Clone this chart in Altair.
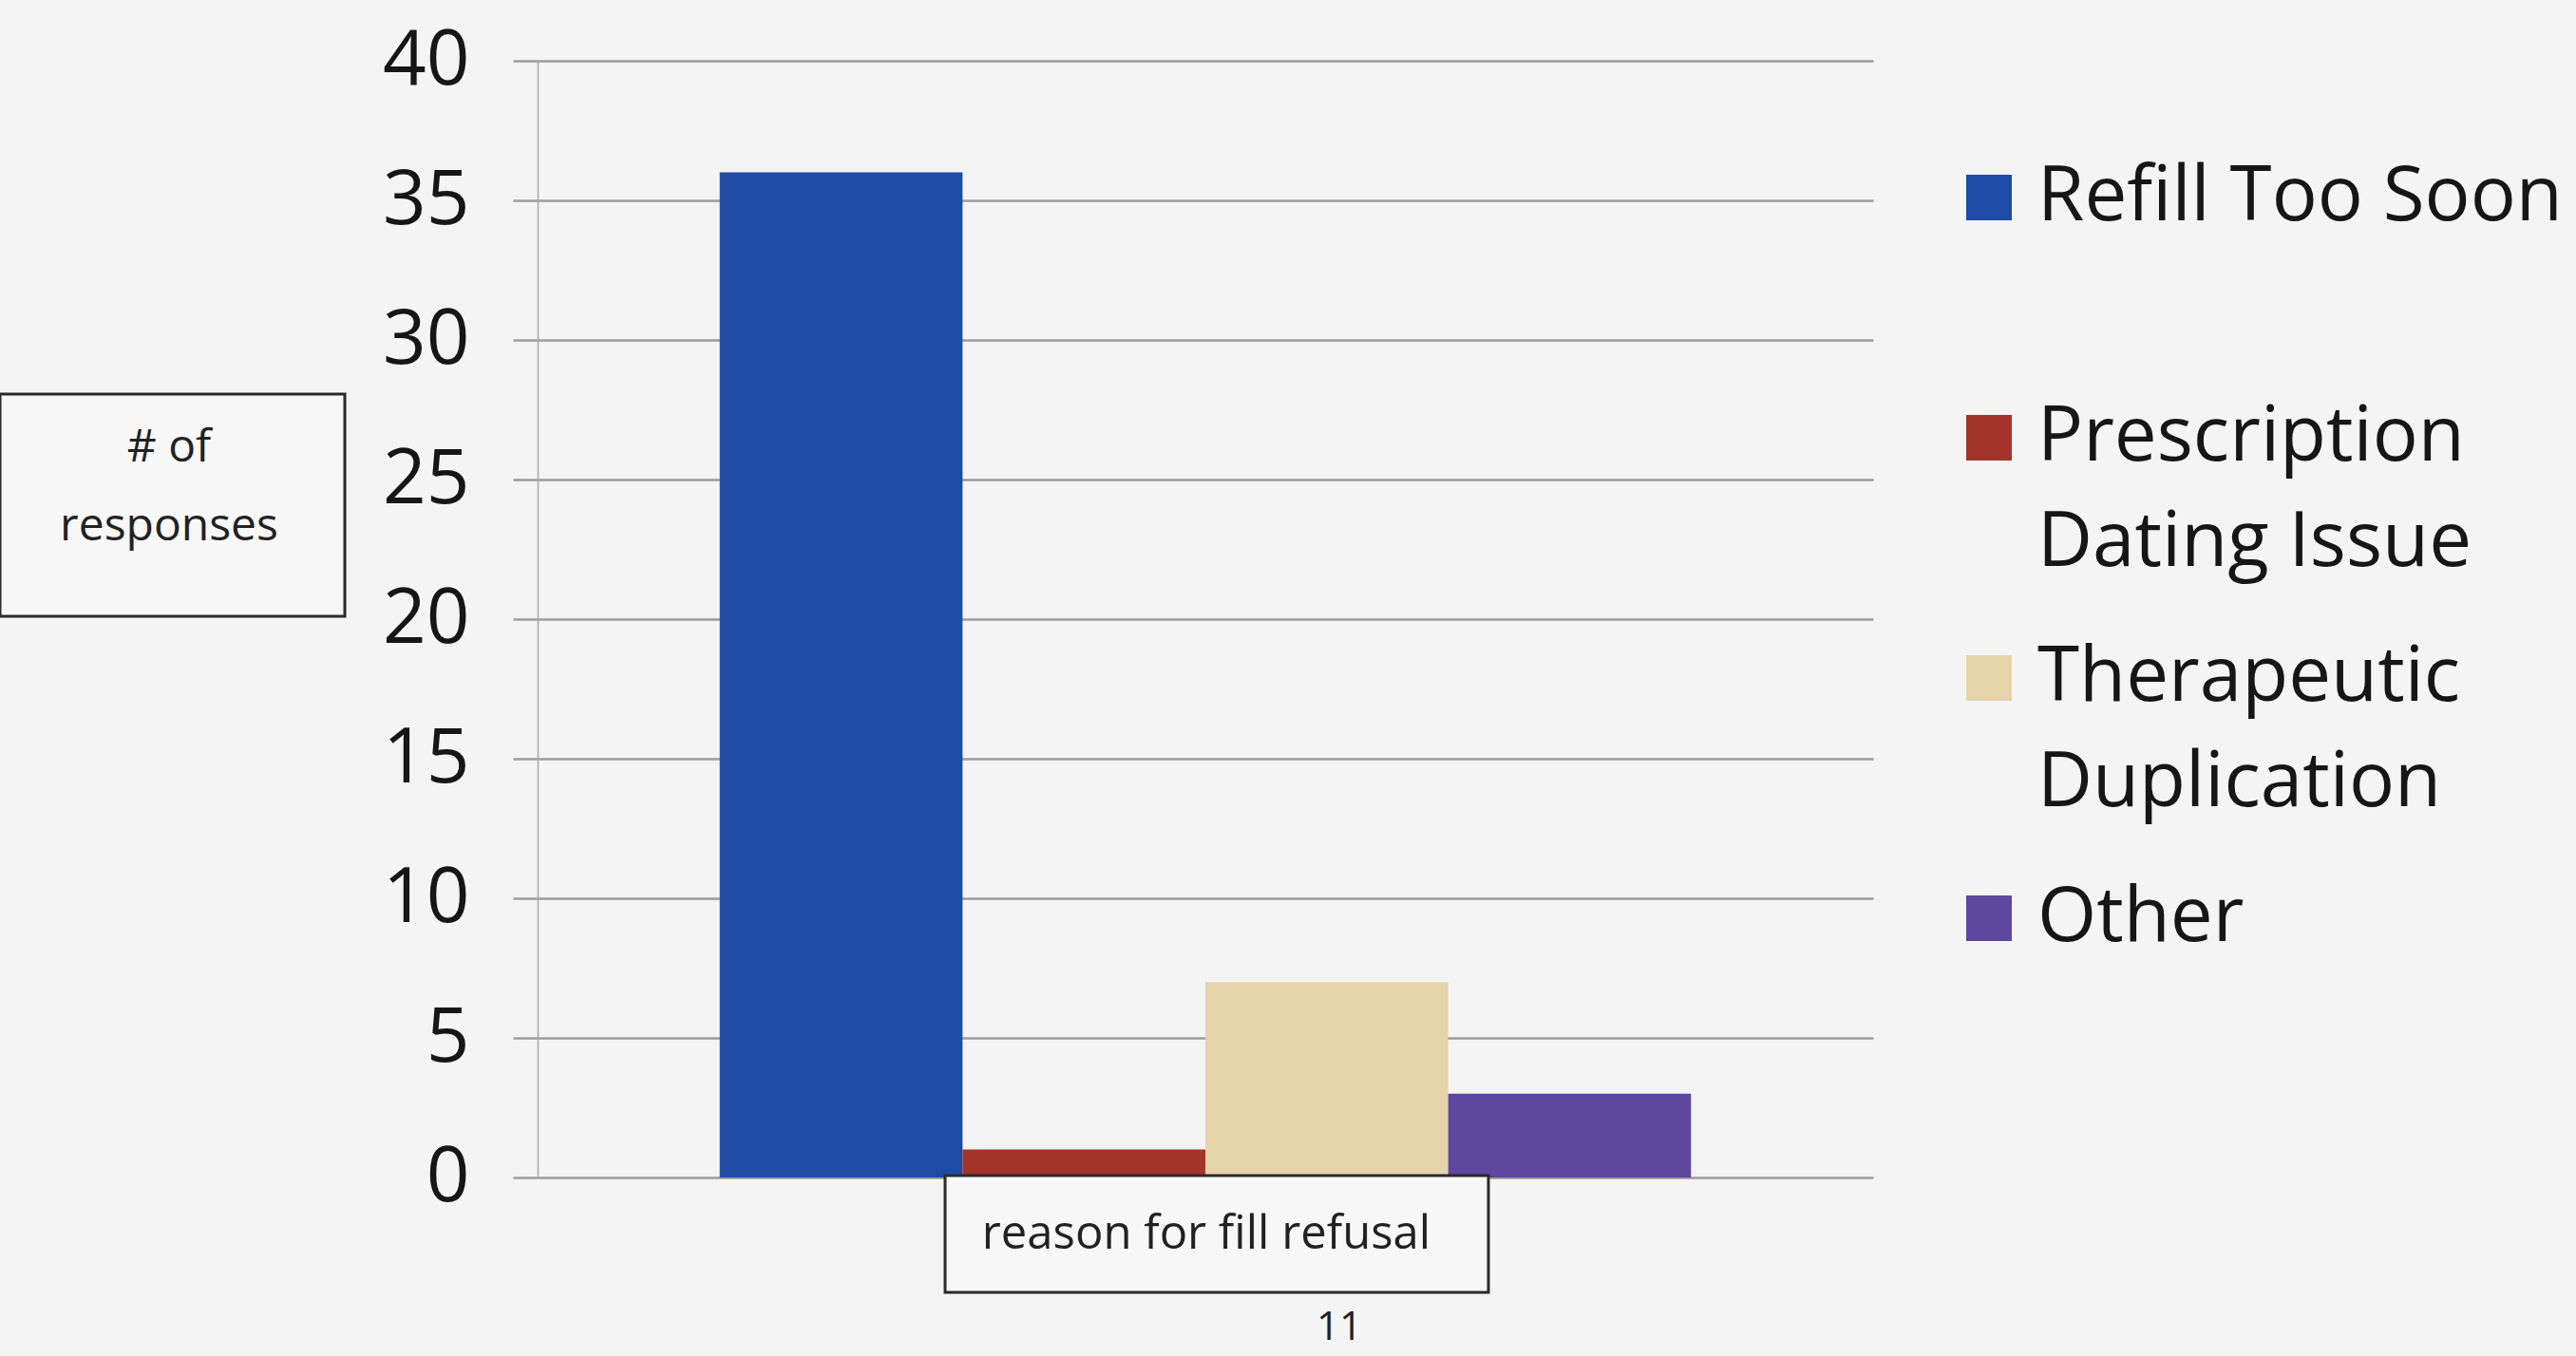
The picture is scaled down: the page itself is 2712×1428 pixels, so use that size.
import altair as alt
import pandas as pd

series = ["Refill Too Soon", "Prescription\nDating Issue", "Therapeutic\nDuplication", "Other"]
values = [36, 1, 7, 3]
colors = ["#1F4BA6", "#A2342A", "#E6D3AA", "#5D479F"]
y_ticks = [0, 5, 10, 15, 20, 25, 30, 35, 40]
y_title = "# of\nresponses"
x_title = "reason for fill refusal"
page_no = "11"

df = pd.DataFrame({"reason": series, "count": values})

W, H = 1406, 1176
FONT = "Open Sans"

color_enc = alt.Color("reason:N", sort=series,
                      scale=alt.Scale(domain=series, range=colors), legend=None)

bars = alt.Chart(df).mark_bar().encode(
    x=alt.X("reason:N", sort=series, axis=None,
            scale=alt.Scale(paddingInner=0, paddingOuter=0.75)),
    y=alt.Y("count:Q", scale=alt.Scale(domain=[0, 40]),
            axis=alt.Axis(values=y_ticks, title=None, grid=True,
                          gridColor="#9C9C9C", gridWidth=2.5,
                          tickColor="#9C9C9C", tickWidth=2.5, tickSize=26,
                          domainColor="#A8A8A8", domainWidth=1.5,
                          labelFont=FONT, labelFontSize=80, labelColor="#161616",
                          labelPadding=46)),
    color=color_enc,
)

# legend drawn as its own layer (multi-line labels with Excel-like spacing)
leg_y = alt.Y("reason:N", sort=series, axis=None,
              scale=alt.Scale(type="point", padding=0, range=[144, 903]))
leg_sym = alt.Chart(df).mark_square(size=2304, opacity=1).encode(
    x=alt.value(1528), y=leg_y, color=color_enc)
leg_txt = alt.Chart(df).mark_text(font=FONT, fontSize=80, color="#161616",
                                  align="left", baseline="middle",
                                  lineBreak="\n", lineHeight=111).encode(
    x=alt.value(1579), y=leg_y, text="reason:N")

ann = pd.DataFrame({"a": [1]})

ybox = alt.Chart(ann).mark_rect(fill="#F7F7F7", stroke="#2A2A2A", strokeWidth=3).encode(
    x=alt.value(-566), x2=alt.value(-203), y=alt.value(351), y2=alt.value(585))
ytext = alt.Chart(ann).mark_text(font=FONT, fontSize=48, color="#222222",
                                 lineBreak="\n", lineHeight=83, baseline="middle",
                                 align="center").encode(
    x=alt.value(-388), y=alt.value(408), text=alt.value(y_title))

xbox = alt.Chart(ann).mark_rect(fill="#F7F7F7", stroke="#2A2A2A", strokeWidth=3).encode(
    x=alt.value(429), x2=alt.value(1001), y=alt.value(1174), y2=alt.value(1297))
xtext = alt.Chart(ann).mark_text(font=FONT, fontSize=49, color="#222222",
                                 baseline="middle", align="center").encode(
    x=alt.value(704), y=alt.value(1236), text=alt.value(x_title))

ptext = alt.Chart(ann).mark_text(font=FONT, fontSize=42, color="#222222",
                                 baseline="middle", align="center").encode(
    x=alt.value(844), y=alt.value(1334), text=alt.value(page_no))

legend = alt.layer(leg_sym, leg_txt)

chart = alt.layer(bars, legend, ybox, ytext, xbox, xtext, ptext).resolve_scale(
    y="independent"
).properties(
    width=W, height=H,
    background="#F4F4F4",
    padding={"left": 566, "top": 64, "right": 2712 - 566 - W, "bottom": 1428 - 64 - H},
    autosize=alt.AutoSizeParams(type="none"),
).configure_view(stroke=None)

chart.save("out.html", embed_options={"renderer": "svg", "actions": False})
